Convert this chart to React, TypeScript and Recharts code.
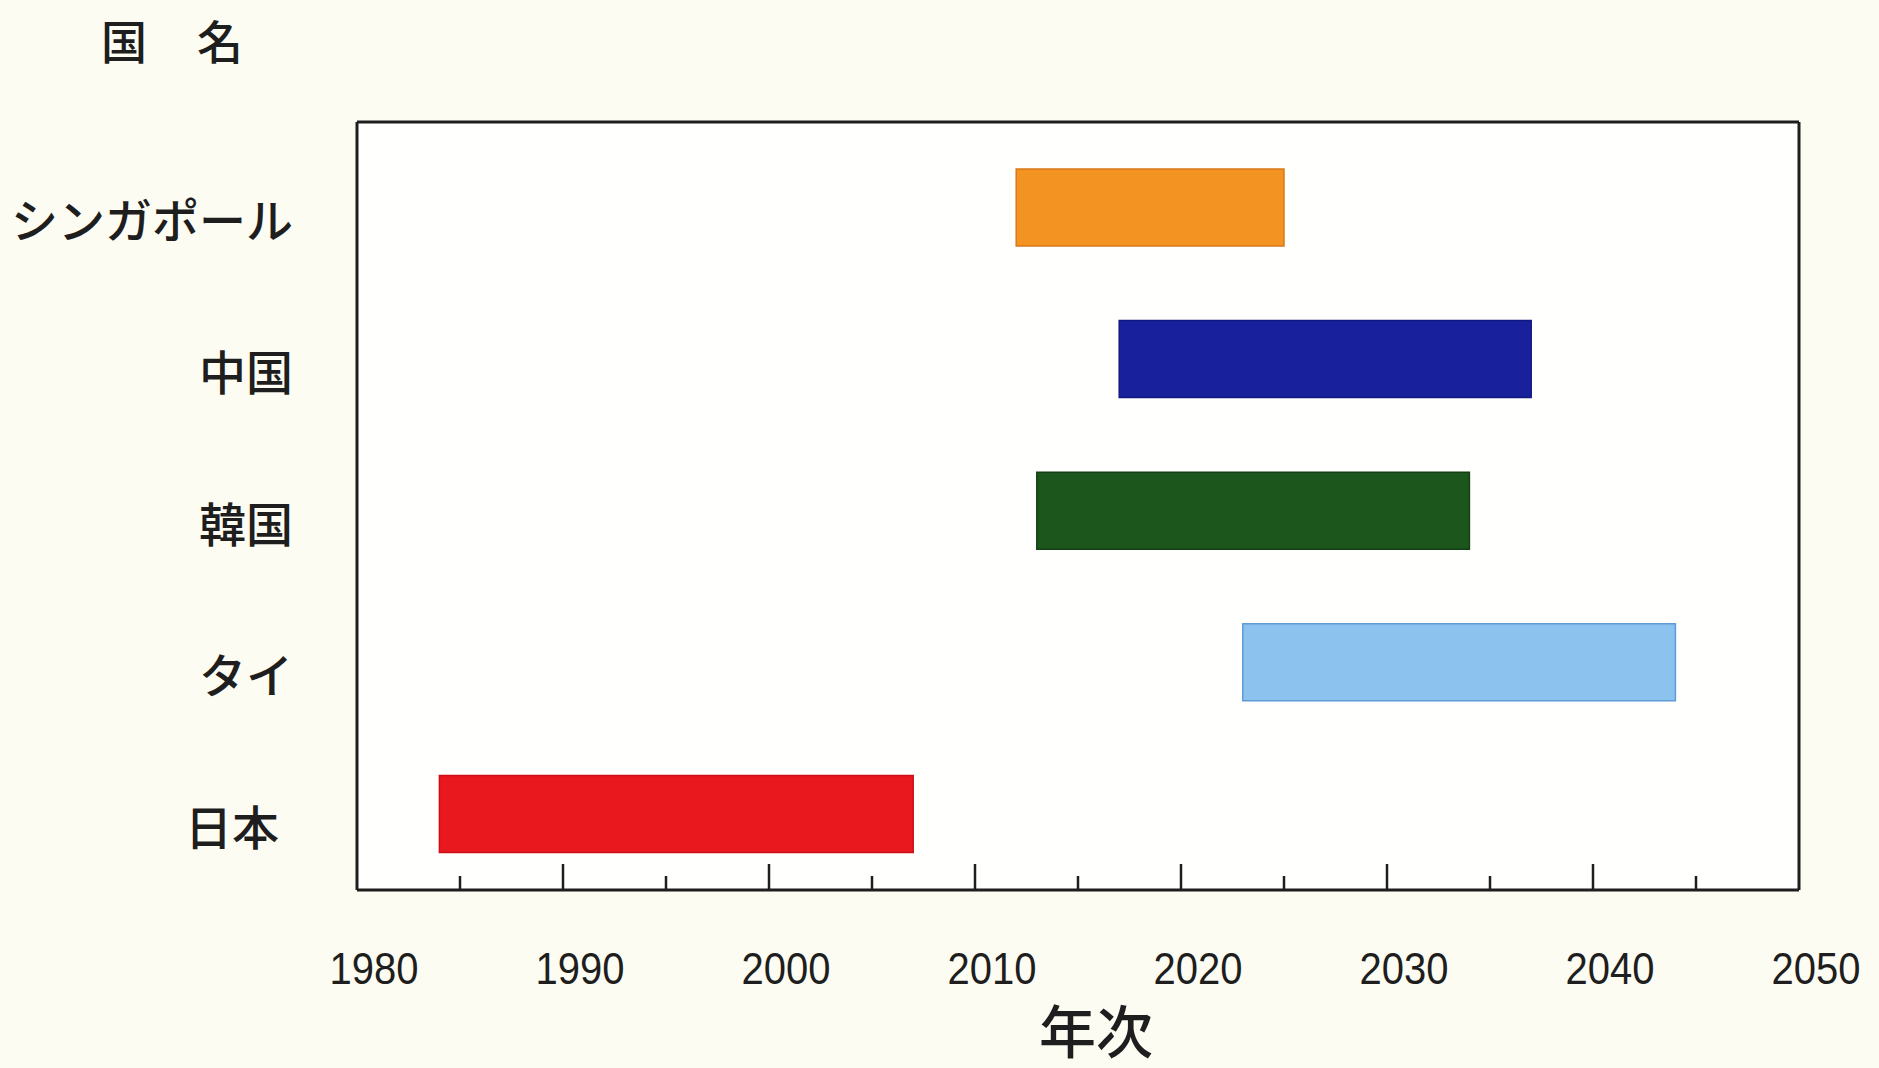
import React from 'react';
import { BarChart, Bar, Cell, XAxis, YAxis } from 'recharts';

const countries = ['シンガポール', '中国', '韓国', 'タイ', '日本'];
const startYears = [2012, 2017, 2013, 2023, 1984];
const endYears = [2025, 2037, 2034, 2044, 2007];
const barColors = ['#F39321', '#19209C', '#1C561D', '#8CC2EE', '#E9181F'];
const barEdges = ['#D9781A', '#121880', '#143F15', '#5E9BD6', '#CC1016'];
const yearTicks = [1980, 1985, 1990, 1995, 2000, 2005, 2010, 2015, 2020, 2025, 2030, 2035, 2040, 2045, 2050];

const data = countries.map((name, i) => ({ name, range: [startYears[i], endYears[i]] }));

const W = 1879;
const H = 1068;
const INK = '#1e1e1e';
const jpFont = '"Noto Sans CJK JP", "Noto Sans", sans-serif';
const frameLine = { stroke: INK, strokeWidth: 3 };

const YearTick = (props: any) => {
  const { x, y, payload } = props;
  const v = payload.value;
  const major = v % 10 === 0;
  const edge = v === 1980 || v === 2050;
  return (
    <g>
      {!edge && (
        <line x1={x} x2={x} y1={y} y2={y - (major ? 26 : 14)} stroke={INK} strokeWidth={2.5} />
      )}
      {major && (
        <text
          x={x + 17}
          y={y + 78}
          textAnchor="middle"
          dominantBaseline="central"
          fontFamily='"Liberation Sans", Arial, sans-serif'
          fontSize={45}
          textLength={89}
          lengthAdjust="spacingAndGlyphs"
          fill={INK}
        >
          {v}
        </text>
      )}
    </g>
  );
};

const CountryTick = (props: any) => {
  const { x, y, payload } = props;
  const shift = payload.value === '日本' ? -14 : 0;
  return (
    <text
      x={x - 64 + shift}
      y={y + 10}
      textAnchor="end"
      dominantBaseline="central"
      fontFamily={jpFont}
      fontWeight={500}
      fontSize={47}
      fill={INK}
    >
      {payload.value}
    </text>
  );
};

export default function App() {
  return (
    <div style={{ position: 'absolute', left: 0, top: 0, width: W, height: H, background: '#FDFCF2', overflow: 'hidden' }}>
      <div
        style={{
          position: 'absolute',
          left: 101,
          top: 6,
          fontFamily: jpFont,
          fontWeight: 500,
          fontSize: 46,
          color: INK,
          letterSpacing: 50,
        }}
      >
        国名
      </div>
      <div style={{ position: 'absolute', left: 357, top: 122, width: 1442, height: 768, background: '#FFFFFD' }} />
      <BarChart
        width={W}
        height={H}
        data={data}
        layout="vertical"
        margin={{ top: 121, right: 79, bottom: 0, left: 0 }}
        style={{ position: 'absolute', left: 0, top: 0 }}
      >
        <XAxis
          type="number"
          dataKey="range"
          domain={[1980, 2050]}
          ticks={yearTicks}
          interval={0}
          allowDataOverflow
          height={178}
          tickSize={0}
          tickMargin={0}
          tickLine={false}
          axisLine={frameLine}
          tick={<YearTick />}
          label={{
            value: '年次',
            position: 'insideTop',
            dx: 18,
            dy: 118,
            fontFamily: jpFont,
            fontWeight: 500,
            fontSize: 57,
            fill: INK,
          }}
        />
        <XAxis
          xAxisId="top"
          orientation="top"
          type="number"
          domain={[1980, 2050]}
          height={1}
          tick={false}
          tickLine={false}
          axisLine={frameLine}
        />
        <YAxis
          type="category"
          dataKey="name"
          width={357}
          padding={{ top: 10, bottom: 0 }}
          tickSize={0}
          tickMargin={0}
          tickLine={false}
          axisLine={frameLine}
          tick={<CountryTick />}
        />
        <YAxis
          yAxisId="right"
          orientation="right"
          type="category"
          dataKey="name"
          width={1}
          tick={false}
          tickLine={false}
          axisLine={frameLine}
        />
        <Bar dataKey="range" barSize={77} isAnimationActive={false}>
          {data.map((d, i) => (
            <Cell key={d.name} fill={barColors[i]} stroke={barEdges[i]} strokeWidth={1.5} />
          ))}
        </Bar>
      </BarChart>
    </div>
  );
}
